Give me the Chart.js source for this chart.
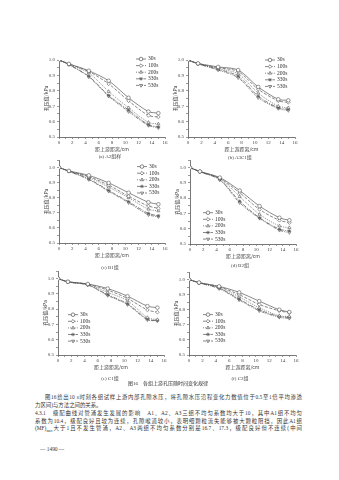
<!DOCTYPE html>
<html>
<head>
<meta charset="utf-8">
<script src="https://cdn.jsdelivr.net/npm/chart.js@4.4.0/dist/chart.umd.min.js"></script>
<style>
  body { margin: 0; width: 339px; height: 480px; background: #fff; position: relative; overflow: hidden;
         font-family: "Liberation Serif", "Noto Sans CJK SC", serif; color: #333; }
  canvas { position: absolute; }
  .cap { position: absolute; font-size: 5px; white-space: nowrap; transform: translate(-50%, -50%); color: #444; }
  .ln { position: absolute; font-size: 5.4px; line-height: 6px; white-space: nowrap; color: #333;
        text-align: justify; text-align-last: justify; }
</style>
</head>
<body>

<script>
// distance from the upstream face (cm)
const distance = [0, 1.5, 4.5, 7.5, 10.5, 13.5, 15];
const times = ['30s', '100s', '200s', '330s', '530s'];

// pore pressure (kPa) per group, one row per time: 30s,100s,200s,330s,530s
const groupA2 = [
  [1.0, 0.975, 0.93, 0.865, 0.755, 0.665, 0.655],
  [1.0, 0.975, 0.925, 0.845, 0.735, 0.64, 0.63],
  [1.0, 0.972, 0.915, 0.795, 0.69, 0.595, 0.585],
  [1.0, 0.97, 0.895, 0.77, 0.675, 0.58, 0.565],
  [1.0, 0.97, 0.89, 0.765, 0.665, 0.575, 0.56]
];
const groupA3 = [
  [1.0, 0.978, 0.955, 0.935, 0.825, 0.745, 0.738],
  [1.0, 0.977, 0.95, 0.925, 0.81, 0.735, 0.725],
  [1.0, 0.976, 0.945, 0.91, 0.785, 0.70, 0.69],
  [1.0, 0.975, 0.94, 0.895, 0.765, 0.69, 0.68],
  [1.0, 0.975, 0.935, 0.885, 0.755, 0.685, 0.672]
];
const groupB1 = [
  [1.0, 0.978, 0.948, 0.898, 0.833, 0.77, 0.757],
  [1.0, 0.977, 0.94, 0.883, 0.81, 0.745, 0.73],
  [1.0, 0.976, 0.935, 0.87, 0.8, 0.724, 0.713],
  [1.0, 0.975, 0.925, 0.848, 0.774, 0.696, 0.68],
  [1.0, 0.975, 0.92, 0.843, 0.767, 0.687, 0.674]
];
const groupB2 = [
  [1.0, 0.975, 0.935, 0.85, 0.748, 0.672, 0.655],
  [1.0, 0.975, 0.93, 0.835, 0.726, 0.655, 0.64],
  [1.0, 0.974, 0.928, 0.81, 0.694, 0.618, 0.607],
  [1.0, 0.973, 0.922, 0.78, 0.672, 0.597, 0.586],
  [1.0, 0.973, 0.92, 0.77, 0.668, 0.59, 0.575]
];
const groupC1 = [
  [1.0, 0.98, 0.965, 0.935, 0.885, 0.82, 0.81],
  [1.0, 0.98, 0.963, 0.925, 0.87, 0.795, 0.78],
  [1.0, 0.979, 0.962, 0.91, 0.855, 0.745, 0.732],
  [1.0, 0.978, 0.96, 0.895, 0.835, 0.735, 0.725],
  [1.0, 0.978, 0.958, 0.89, 0.83, 0.73, 0.725]
];
const groupC2 = [
  [1.0, 0.98, 0.955, 0.915, 0.857, 0.80, 0.785],
  [1.0, 0.98, 0.952, 0.90, 0.835, 0.793, 0.78],
  [1.0, 0.979, 0.948, 0.885, 0.813, 0.76, 0.755],
  [1.0, 0.978, 0.944, 0.87, 0.80, 0.755, 0.75],
  [1.0, 0.978, 0.94, 0.865, 0.793, 0.75, 0.743]
];
const yTicks = [0.5, 0.6, 0.7, 0.8, 0.9, 1.0];
const xTicks = [0, 2, 4, 6, 8, 10, 12, 14, 16];

// line / marker look for each time
const seriesStyle = [
  { pointStyle: 'circle', rotation: 0, dash: [], filled: false },
  { pointStyle: 'rectRot', rotation: 0, dash: [3, 1.5], filled: false },
  { pointStyle: 'triangle', rotation: 0, dash: [1, 1.2], filled: false },
  { pointStyle: 'star', rotation: 0, dash: [4, 1.2, 1, 1.2], filled: true },
  { pointStyle: 'triangle', rotation: 180, dash: [3, 1, 1, 1, 1, 1], filled: false }
];
const ink = '#555';

// legend drawn inside the plot, page coordinates of the first sample line
const insideLegend = {
  id: 'insideLegend',
  afterDatasetsDraw(chart, args, opts) {
    const ctx = chart.ctx;
    ctx.save();
    chart.data.datasets.forEach(function(ds, i) {
      const st = seriesStyle[i];
      const x = opts.x - opts.left;
      const y = opts.y - opts.top + i * 6.6;
      ctx.strokeStyle = ink;
      ctx.lineWidth = 0.7;
      ctx.setLineDash(st.dash);
      ctx.beginPath();
      ctx.moveTo(x, y);
      ctx.lineTo(x + 10, y);
      ctx.stroke();
      ctx.setLineDash([]);
      ctx.fillStyle = st.filled ? ink : '#fff';
      Chart.helpers.drawPoint(ctx, { pointStyle: st.pointStyle, rotation: st.rotation, radius: 1.8, borderWidth: 0.6 }, x + 5, y);
      ctx.fillStyle = '#333';
      ctx.font = '5.5px "Liberation Serif"';
      ctx.textBaseline = 'middle';
      ctx.fillText(ds.label, x + 12, y);
    });
    ctx.restore();
  }
};

function makeChart(rows, box, legendAt, caption) {
  const top = box.y10 - (box.ymax - 1.0) / 0.5 * (box.y05 - box.y10);
  const padL = 22, padT = 5, padR = 8, padB = 16;
  const canvas = document.createElement('canvas');
  const left = box.x0 - padL, ctop = top - padT;
  canvas.width = padL + (box.x16 - box.x0) + padR;
  canvas.height = padT + (box.y05 - top) + padB;
  canvas.style.left = left + 'px';
  canvas.style.top = ctop + 'px';
  document.body.appendChild(canvas);

  new Chart(canvas.getContext('2d'), {
    type: 'line',
    data: {
      datasets: rows.map(function(r, i) {
        const st = seriesStyle[i];
        return {
          label: times[i],
          data: distance.map(function(d, k) { return { x: d, y: r[k] }; }),
          borderColor: ink,
          borderWidth: 0.7,
          borderDash: st.dash,
          tension: 0.3,
          pointStyle: st.pointStyle,
          rotation: st.rotation,
          pointRadius: 1.8,
          pointBorderWidth: 0.6,
          pointBorderColor: ink,
          pointBackgroundColor: st.filled ? ink : '#fff'
        };
      })
    },
    options: {
      responsive: false,
      animation: false,
      devicePixelRatio: 1,
      layout: { padding: { top: padT, right: padR, left: 0, bottom: 0 } },
      plugins: {
        legend: { display: false },
        tooltip: { enabled: false },
        insideLegend: { x: legendAt.x, y: legendAt.y, left: left, top: ctop }
      },
      scales: {
        x: {
          type: 'linear', min: 0, max: 16,
          afterBuildTicks: function(s) {
            const t = [];
            for (let v = 0; v <= 16; v++) t.push({ value: v });
            s.ticks = t;
          },
          ticks: {
            autoSkip: false, maxRotation: 0, padding: 1, color: '#444',
            font: { family: 'Liberation Serif', size: 5 },
            callback: function(v) { return xTicks.indexOf(v) >= 0 ? String(v) : ''; }
          },
          grid: { drawOnChartArea: false, tickLength: 2, color: ink, lineWidth: 0.6 },
          border: { color: ink, width: 0.8 },
          title: { display: true, text: '距上游距离/cm', color: '#444',
                   font: { family: 'Noto Sans CJK SC', size: 5 }, padding: { top: 0, bottom: 1 } },
          afterFit: function(s) { s.height = padB; }
        },
        y: {
          type: 'linear', min: 0.5, max: box.ymax,
          afterBuildTicks: function(s) {
            const t = [];
            for (let k = 10; k <= Math.round(box.ymax * 20); k++) t.push({ value: k / 20 });
            s.ticks = t;
          },
          ticks: {
            autoSkip: false, padding: 2, color: '#444',
            font: { family: 'Liberation Serif', size: 5 },
            callback: function(v) {
              const hit = yTicks.find(function(t) { return Math.abs(t - v) < 1e-6; });
              return hit !== undefined ? hit.toFixed(1) : '';
            }
          },
          grid: { drawOnChartArea: false, tickLength: 2, color: ink, lineWidth: 0.6 },
          border: { color: ink, width: 0.8 },
          title: { display: true, text: '孔压值/kPa', color: '#444',
                   font: { family: 'Noto Sans CJK SC', size: 5 }, padding: { top: 6, bottom: 0 } },
          afterFit: function(s) { s.width = padL; }
        }
      }
    },
    plugins: [insideLegend]
  });

  const c = document.createElement('div');
  c.className = 'cap';
  c.textContent = caption.text;
  c.style.left = caption.x + 'px';
  c.style.top = caption.y + 'px';
  document.body.appendChild(c);
}

makeChart(groupA2, { x0: 59, x16: 165, y10: 60, y05: 137, ymax: 1.0 }, { x: 136, y: 59 }, { text: '(a) A2组样', x: 110, y: 155 });
makeChart(groupA3, { x0: 188, x16: 295, y10: 60, y05: 137, ymax: 1.0 }, { x: 265, y: 60 }, { text: '(b) A3C1组', x: 240, y: 156 });
makeChart(groupB1, { x0: 59, x16: 165, y10: 168, y05: 244, ymax: 1.05 }, { x: 137, y: 167 }, { text: '(c) B1组', x: 110, y: 266 });
makeChart(groupB2, { x0: 190, x16: 296, y10: 168, y05: 245, ymax: 1.05 }, { x: 203, y: 213 }, { text: '(d) B2组', x: 240, y: 264 });
makeChart(groupC1, { x0: 58, x16: 164, y10: 279, y05: 356, ymax: 1.05 }, { x: 68, y: 315 }, { text: '(e) C1组', x: 110, y: 377 });
makeChart(groupC2, { x0: 189, x16: 296, y10: 280, y05: 356, ymax: 1.05 }, { x: 203, y: 315 }, { text: '(f) C2组', x: 240, y: 377 });
</script>

<div class="ln" style="left:128px; top:381px; font-size:5px; text-align:left; text-align-last:left;">图16　各组上游孔压随时间变化规律</div>
<div class="ln" style="left:45px; top:394px; width:257px;">图16给出10 s时刻各组试样上游内部孔隙水压，将孔隙水压沿程变化力数值位于0.5至1倍平均渗透</div>
<div class="ln" style="left:35px; top:402px; text-align:left; text-align-last:left;">力区间)与方法之间的关系。</div>
<div class="ln" style="left:35px; top:410px; width:267px;">4.3.1　级配曲线对管涌发生发展的影响　A1、A2、A3三组不均匀系数均大于10，其中A1组不均匀</div>
<div class="ln" style="left:35px; top:418px; width:267px;">系数为10.4，级配良好且较为连续，孔隙喉道较小，表明细颗粒流失能够被大颗粒阻挡，因此A1组</div>
<div class="ln" style="left:35px; top:425px; width:267px;">(MF)<sub style="font-size:3.5px">max</sub>大于1且不发生管涌，A2、A3两组不均匀系数分别是16.7、17.3，级配良好但不连续(中间</div>
<div class="ln" style="left:40px; top:446px; text-align:left; text-align-last:left;">—  1490  —</div>

</body>
</html>
